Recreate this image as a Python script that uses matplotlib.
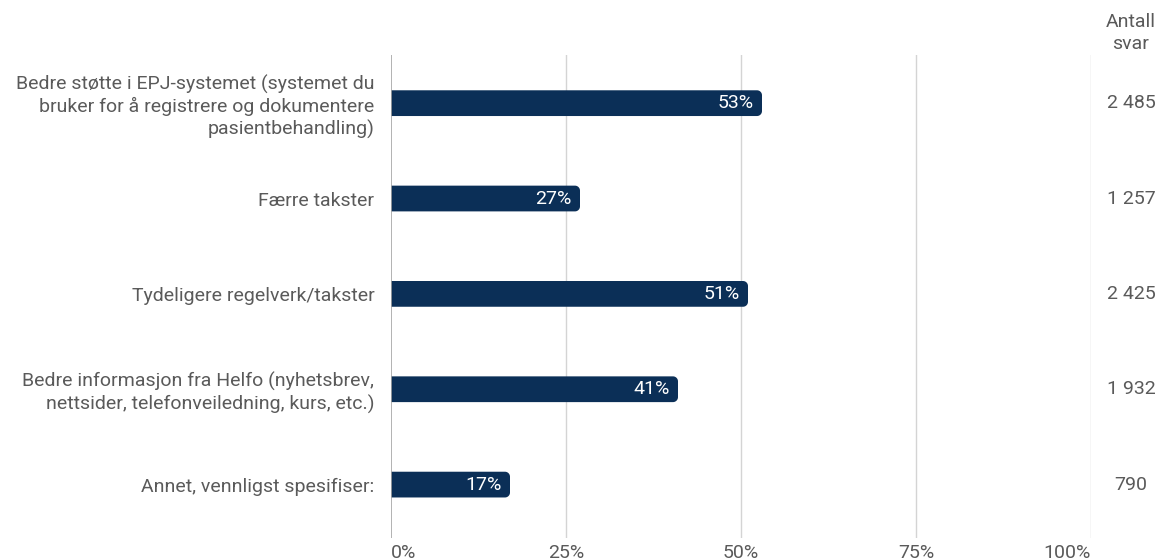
import matplotlib
matplotlib.use("Agg")
import numpy as np
import matplotlib.pyplot as plt
from matplotlib.patches import PathPatch
from matplotlib.path import Path

categories = [
    "Bedre støtte i EPJ-systemet (systemet du\nbruker for å registrere og dokumentere\npasientbehandling)",
    "Færre takster",
    "Tydeligere regelverk/takster",
    "Bedre informasjon fra Helfo (nyhetsbrev,\nnettsider, telefonveiledning, kurs, etc.)",
    "Annet, vennligst spesifiser:",
]
shares = [0.53, 0.27, 0.51, 0.41, 0.17]
share_labels = ["53%", "27%", "51%", "41%", "17%"]
counts = ["2 485", "1 257", "2 425", "1 932", "790"]
xticks = [0, 0.25, 0.5, 0.75, 1.0]
xtick_labels = ["0%", "25%", "50%", "75%", "100%"]

plt.rcParams["font.family"] = ["Roboto", "DejaVu Sans"]
navy = "#0b2f57"
text_gray = "#5a5a5a"
fs = 14

W, H = 1165, 560
fig = plt.figure(figsize=(W / 100, H / 100), dpi=100)
ax = fig.add_axes([391 / W, 1 - 538 / H, 700 / W, (538 - 55) / H])

ypos = list(range(len(categories)))
bar_h = 0.27
ax.set_xlim(0, 1)
ax.set_ylim(4.56, -0.505)

# bar with square left end and rounded right corners (radius in px -> data units)
r_px = 5
ppx = 700 / 1.0
ppy = (538 - 55) / (4.56 + 0.505)
rx = r_px / ppx
ry = r_px / ppy


def bar_path(v, y):
    top, bot = y - bar_h / 2, y + bar_h / 2
    t = np.linspace(0, np.pi / 2, 10)
    pts = [(0, top), (v - rx, top)]
    pts += [(v - rx + rx * np.sin(a), top + ry - ry * np.cos(a)) for a in t]
    pts += [(v, bot - ry)]
    pts += [(v - rx + rx * np.cos(a), bot - ry + ry * np.sin(a)) for a in t]
    pts += [(0, bot), (0, top)]
    codes = [Path.MOVETO] + [Path.LINETO] * (len(pts) - 2) + [Path.CLOSEPOLY]
    return Path(pts, codes)


for y, v, lab in zip(ypos, shares, share_labels):
    ax.add_patch(PathPatch(bar_path(v, y), facecolor=navy, edgecolor="none", zorder=3))
    ax.text(v - 8 / ppx, y, lab, color="white", ha="right", va="center",
            fontsize=fs, zorder=4)

for x in xticks[1:]:
    ax.axvline(x, color="#d4d4d4", lw=1, zorder=1)
ax.axvline(0, color="#a6a6a6", lw=1.2, zorder=4)

for s in ax.spines.values():
    s.set_visible(False)

ax.set_yticks(ypos)
ax.set_yticklabels(categories, fontsize=fs, color=text_gray, linespacing=1.2)
ax.tick_params(axis="y", length=0, pad=12)

ax.set_xticks(xticks)
ax.set_xticklabels(xtick_labels, fontsize=fs, color=text_gray)
ax.tick_params(axis="x", length=0, pad=4)
tl = ax.get_xticklabels()
tl[0].set_ha("left")
tl[-1].set_ha("right")

count_tr = matplotlib.transforms.blended_transform_factory(fig.transFigure, ax.transData)
for y, c in zip(ypos, counts):
    ax.text(1131 / W, y, c, transform=count_tr,
            ha="center", va="center", fontsize=fs, color=text_gray)
fig.text(1131 / W, 1 - 33 / H, "Antall\nsvar", ha="center", va="center",
         fontsize=fs, color=text_gray, linespacing=1.25)

fig.savefig("out.png", dpi=100, facecolor="white")
